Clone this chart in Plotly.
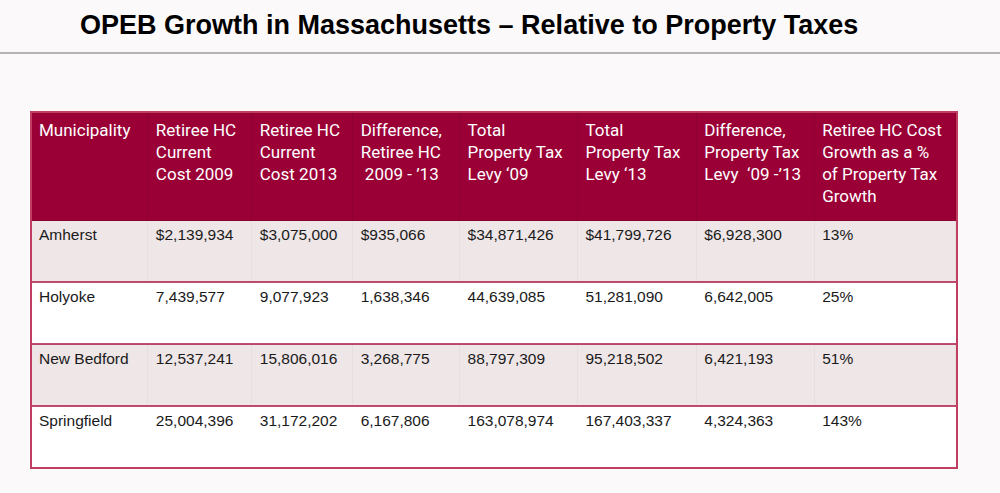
import plotly.graph_objects as go

# ---------------- data ----------------
title_text = "OPEB Growth in Massachusetts \u2013 Relative to Property Taxes"
headers = [
    "Municipality<br> ",
    "Retiree HC<br>Current<br>Cost 2009",
    "Retiree HC<br>Current<br>Cost 2013",
    "Difference,<br>Retiree HC<br> 2009 - \u201913",
    "Total<br>Property Tax<br>Levy \u201809",
    "Total<br>Property Tax<br>Levy \u201813",
    "Difference,<br>Property Tax<br>Levy  \u201809 -\u201913",
    "Retiree HC Cost<br>Growth as a %<br>of Property Tax<br>Growth",
]
municipalities = ["Amherst", "Holyoke", "New Bedford", "Springfield"]
hc_cost_2009 = [2139934, 7439577, 12537241, 25004396]
hc_cost_2013 = [3075000, 9077923, 15806016, 31172202]
hc_difference = [935066, 1638346, 3268775, 6167806]
tax_levy_09 = [34871426, 44639085, 88797309, 163078974]
tax_levy_13 = [41799726, 51281090, 95218502, 167403337]
tax_difference = [6928300, 6642005, 6421193, 4324363]
growth_pct = [13, 25, 51, 143]

# ---------------- styling ----------------
W, H = 1000, 493
bg = "#fcf9fa"
maroon = "#9a0036"
crimson = "#ab1342"
shade = "#eee6e7"
white = "#ffffff"

def money(vals):
    return [("$" if i == 0 else "") + f"{v:,}" for i, v in enumerate(vals)]

columns = [
    municipalities,
    money(hc_cost_2009),
    money(hc_cost_2013),
    money(hc_difference),
    money(tax_levy_09),
    money(tax_levy_13),
    money(tax_difference),
    [f"{p}%" for p in growth_pct],
]

col_widths = [117, 104, 101, 107, 118, 119, 118, 142]
tbl_left, tbl_right, tbl_top = 31, 957, 112
header_h, row_h = 108, 62

row_fill = [shade if i % 2 == 0 else white for i in range(len(municipalities))]
row_line = ["#e8dfe0" if i % 2 == 0 else white for i in range(len(municipalities))]

fig = go.Figure(
    go.Table(
        domain=dict(x=[tbl_left / W, tbl_right / W], y=[0, 1 - tbl_top / H]),
        columnwidth=col_widths,
        header=dict(
            values=headers,
            fill_color=maroon,
            line=dict(color="#8e0032", width=1),
            align="left",
            height=header_h,
            font=dict(family="Roboto, Arial, sans-serif", size=17, color="white"),
        ),
        cells=dict(
            values=columns,
            fill_color=[row_fill] * len(columns),
            line=dict(color=[row_line] * len(columns), width=1),
            align="left",
            height=row_h,
            font=dict(family="Liberation Sans, Arial, sans-serif",
                      size=15.5, color="#1a1a1a"),
        ),
    )
)

def py(px):
    return 1 - px / H

shapes = [
    dict(type="line", xref="paper", yref="paper", x0=0, x1=1, y0=py(53), y1=py(53),
         line=dict(color="#b4b4b4", width=2)),
]
for k in range(1, len(municipalities)):
    yb = tbl_top + header_h + row_h * k
    shapes.append(dict(type="line", xref="paper", yref="paper",
                       x0=tbl_left / W, x1=tbl_right / W, y0=py(yb), y1=py(yb),
                       line=dict(color=crimson, width=1.5), layer="above"))
bottom = tbl_top + header_h + row_h * len(municipalities)
shapes.append(dict(type="rect", xref="paper", yref="paper",
                   x0=tbl_left / W, x1=tbl_right / W, y0=py(bottom), y1=py(tbl_top),
                   line=dict(color="#c03e62", width=2), layer="above"))

fig.update_layout(
    width=W, height=H,
    margin=dict(l=0, r=0, t=0, b=0),
    paper_bgcolor=bg, plot_bgcolor=bg,
    shapes=shapes,
    annotations=[dict(
        text=f"<b>{title_text}</b>", xref="paper", yref="paper",
        x=78 / W, xanchor="left", y=py(25), yanchor="middle", showarrow=False,
        font=dict(family="Liberation Sans, Arial, sans-serif", size=27, color="black"),
    )],
)

fig.write_html("out.html", config={"displayModeBar": False},
               post_script="document.body.style.margin='0';")
